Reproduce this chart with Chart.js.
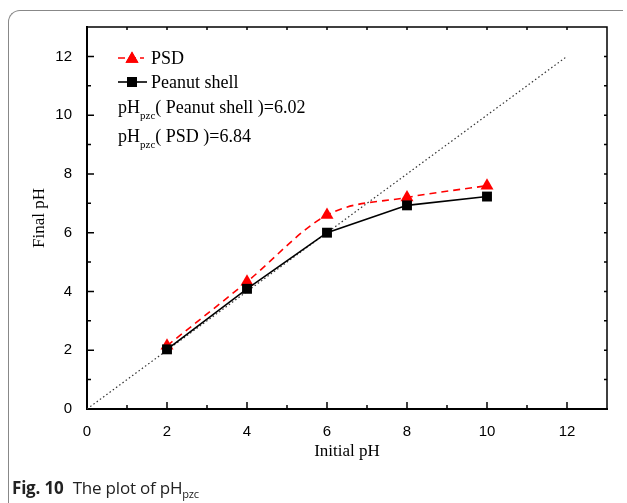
<!DOCTYPE html>
<html>
<head>
<meta charset="utf-8">
<script src="https://cdn.jsdelivr.net/npm/chart.js@4.4.0/dist/chart.umd.min.js"></script>
<style>
  body { margin: 0; background: #fff; }
  #wrap { position: relative; width: 627px; height: 503px; overflow: hidden; }
  #frame { position: absolute; left: 8px; top: 10px; width: 614px; height: 520px;
           border-left: 1.5px solid #888; border-top: 1.5px solid #888; border-top-left-radius: 12px; }
  canvas { position: absolute; left: 0; top: 0; }
  .leg { position: absolute; font-family: "Liberation Serif", "Times New Roman", serif; font-size: 18px;
         line-height: 18px; color: #000; white-space: nowrap; }
  .leg sub { font-size: 11px; vertical-align: -6px; line-height: 0; }
  #cap { position: absolute; left: 12px; top: 476px; font-family: "Open Sans", "Noto Sans", sans-serif;
         font-size: 17px; color: #222; white-space: nowrap; letter-spacing: -0.2px; }
  #cap b { font-weight: 700; margin-right: 5px; }
  #cap sub { font-size: 11px; vertical-align: -4px; line-height: 0; }
</style>
</head>
<body>
<div id="wrap">
  <div id="frame"></div>
  <canvas id="chart" width="627" height="503"></canvas>
  <div class="leg" style="left:151px;top:49px">PSD</div>
  <div class="leg" style="left:151px;top:73px">Peanut shell</div>
  <div class="leg" style="left:118px;top:98px">pH<sub>pzc</sub>( Peanut shell )=6.02</div>
  <div class="leg" style="left:118px;top:127px">pH<sub>pzc</sub>( PSD )=6.84</div>
  <div id="cap"><b>Fig. 10</b> The plot of pH<sub>pzc</sub></div>
</div>
<script>
// data
const initialPH = [2, 4, 6, 8, 10];
const psdFinal = [2.15, 4.33, 6.6, 7.2, 7.6];
const peanutFinal = [2.03, 4.09, 6.0, 6.93, 7.23];
const refLineX = [0, 12];          // y = x guide line
const axisTicks = [0, 2, 4, 6, 8, 10, 12];

const toXY = (xs, ys) => xs.map((x, i) => ({ x: x, y: ys[i] }));

// inward ticks + top/right frame, origin style
const frameTicks = {
  id: 'frameTicks',
  afterDraw(chart) {
    const ctx = chart.ctx;
    const a = chart.chartArea;
    const xs = chart.scales.x, ys = chart.scales.y;
    ctx.save();
    ctx.strokeStyle = '#000';
    ctx.lineWidth = 1.5;
    ctx.beginPath();
    ctx.moveTo(a.left, a.top); ctx.lineTo(a.right, a.top); ctx.lineTo(a.right, a.bottom);
    ctx.stroke();
    for (let v = 1; v < 13; v++) {
      const major = v % 2 === 0;
      const px = xs.getPixelForValue(v);
      const py = ys.getPixelForValue(v);
      const len = major ? 7 : 4;
      ctx.beginPath();
      ctx.moveTo(px, a.bottom); ctx.lineTo(px, a.bottom - len);
      ctx.moveTo(px, a.top); ctx.lineTo(px, a.top + 3);
      ctx.moveTo(a.left, py); ctx.lineTo(a.left + len, py);
      ctx.moveTo(a.right, py); ctx.lineTo(a.right - 3, py);
      ctx.stroke();
    }
    // legend samples
    const helpers = Chart.helpers;
    ctx.lineWidth = 1.6;
    ctx.strokeStyle = '#ff0000';
    ctx.setLineDash([7, 4]);
    ctx.beginPath(); ctx.moveTo(118, 58); ctx.lineTo(144, 58); ctx.stroke();
    ctx.setLineDash([]);
    ctx.fillStyle = '#ff0000';
    helpers.drawPoint(ctx, { pointStyle: 'triangle', radius: 7.5, borderWidth: 0 }, 132, 59);
    ctx.fill();
    ctx.strokeStyle = '#000';
    ctx.beginPath(); ctx.moveTo(118, 82); ctx.lineTo(147, 82); ctx.stroke();
    ctx.fillStyle = '#000';
    helpers.drawPoint(ctx, { pointStyle: 'rect', radius: 7, borderWidth: 0 }, 132, 82);
    ctx.fill();
    ctx.restore();
  }
};

const tickFont = { family: '"Liberation Sans", Arial, sans-serif', size: 15 };
const titleFont = { family: '"Liberation Serif", "Times New Roman", serif', size: 17 };

new Chart(document.getElementById('chart'), {
  type: 'scatter',
  data: {
    datasets: [
      {
        label: 'Peanut shell',
        data: toXY(initialPH, peanutFinal),
        showLine: true,
        borderColor: '#000',
        backgroundColor: '#000',
        borderWidth: 1.6,
        pointStyle: 'rect',
        pointRadius: 7,
        pointBorderWidth: 0
      },
      {
        label: 'PSD',
        data: toXY(initialPH, psdFinal),
        showLine: true,
        borderColor: '#ff0000',
        backgroundColor: '#ff0000',
        borderWidth: 1.6,
        borderDash: [7, 5],
        cubicInterpolationMode: 'monotone',
        pointStyle: 'triangle',
        pointRadius: 7.5,
        pointBorderWidth: 0
      },
      {
        label: 'y = x',
        data: toXY(refLineX, refLineX),
        showLine: true,
        borderColor: '#333',
        borderWidth: 1.2,
        borderDash: [1.5, 2.5],
        pointRadius: 0
      }
    ]
  },
  options: {
    responsive: false,
    animation: false,
    layout: { padding: { left: 25, top: 27, right: 20, bottom: 37 } },
    plugins: { legend: { display: false }, tooltip: { enabled: false } },
    scales: {
      x: {
        type: 'linear', min: 0, max: 13,
        grid: { display: false },
        border: { display: true, color: '#000', width: 2 },
        ticks: { stepSize: 2, font: tickFont, color: '#000', padding: 6, maxRotation: 0 },
        afterBuildTicks: s => { s.ticks = axisTicks.map(v => ({ value: v })); },
        afterFit: s => { s.height = 57; },
        title: { display: true, text: 'Initial pH', font: titleFont, color: '#000' }
      },
      y: {
        type: 'linear', min: 0, max: 13,
        grid: { display: false },
        border: { display: true, color: '#000', width: 2 },
        ticks: { stepSize: 2, font: tickFont, color: '#000', padding: 7 },
        afterBuildTicks: s => { s.ticks = axisTicks.map(v => ({ value: v })); },
        afterFit: s => { s.width = 62; },
        title: { display: true, text: 'Final pH', font: titleFont, color: '#000' }
      }
    }
  },
  plugins: [frameTicks]
});
</script>
</body>
</html>
